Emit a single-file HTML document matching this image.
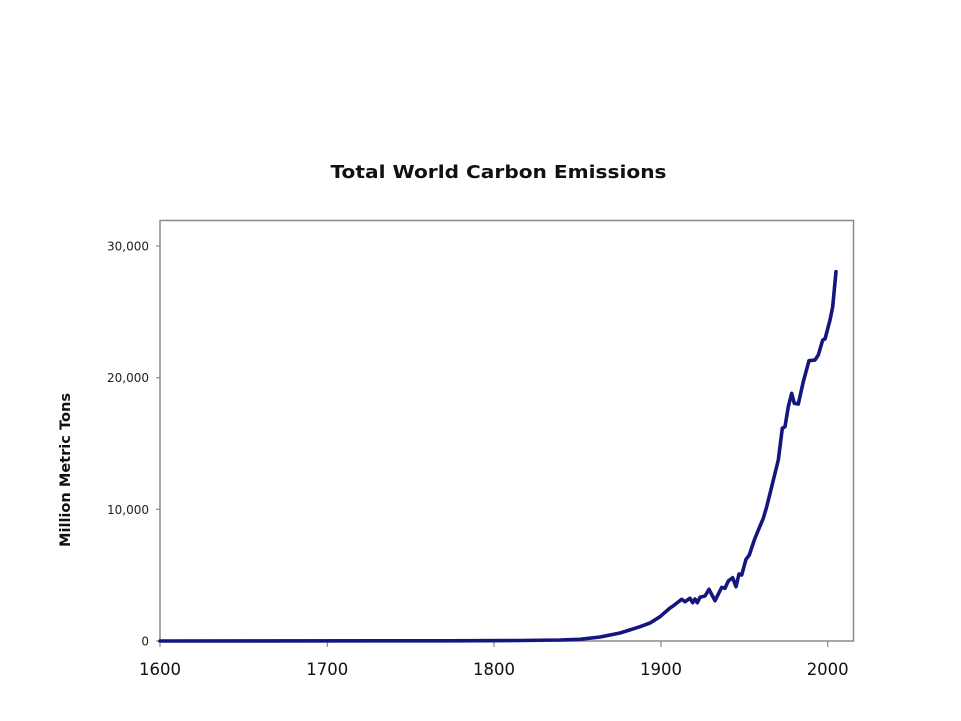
<!DOCTYPE html>
<html><head><meta charset="utf-8"><style>
html,body{margin:0;padding:0;background:#fff;}
svg{display:block;}
</style></head><body>
<svg width="961" height="721" viewBox="0 0 961 721" xmlns="http://www.w3.org/2000/svg">
<rect width="961" height="721" fill="#fff"/>
<text x="498.5" y="178" text-anchor="middle" font-family="DejaVu Sans, Liberation Sans, sans-serif" font-weight="bold" font-size="18" fill="#111" textLength="336" lengthAdjust="spacingAndGlyphs">Total World Carbon Emissions</text>
<rect x="160" y="220.5" width="693.5" height="420.5" fill="none" stroke="#8a8a8a" stroke-width="1.5"/>
<g stroke="#8a8a8a" stroke-width="1.2">
<line x1="156" y1="246" x2="160" y2="246"/>
<line x1="156" y1="377.7" x2="160" y2="377.7"/>
<line x1="156" y1="509.3" x2="160" y2="509.3"/>
<line x1="156" y1="641" x2="160" y2="641"/>
<line x1="160" y1="641" x2="160" y2="647"/>
<line x1="327.3" y1="641" x2="327.3" y2="647"/>
<line x1="494" y1="641" x2="494" y2="647"/>
<line x1="661" y1="641" x2="661" y2="647"/>
<line x1="827.7" y1="641" x2="827.7" y2="647"/>
</g>
<g font-family="DejaVu Sans, Liberation Sans, sans-serif" font-size="12" fill="#222" text-anchor="end">
<text x="149" y="250.5">30,000</text>
<text x="149" y="382.2">20,000</text>
<text x="149" y="513.8">10,000</text>
<text x="149" y="645.5">0</text>
</g>
<g font-family="DejaVu Sans, Liberation Sans, sans-serif" font-size="16.5" fill="#111" text-anchor="middle">
<text x="160" y="675">1600</text>
<text x="327.3" y="675">1700</text>
<text x="494" y="675">1800</text>
<text x="661" y="675">1900</text>
<text x="827.7" y="675">2000</text>
</g>
<text transform="translate(70,470) rotate(-90)" text-anchor="middle" font-family="DejaVu Sans, Liberation Sans, sans-serif" font-weight="bold" font-size="14" fill="#111" textLength="154" lengthAdjust="spacingAndGlyphs">Million Metric Tons</text>
<polyline fill="none" stroke="#15157f" stroke-width="3.6" stroke-linejoin="round" stroke-linecap="round" points="160,641 450,640.8 520,640.5 560,640 580,639.3 600,637 620,633 640,626.7 650,623 660,616.7 670,608 673,606 681.7,599.3 685,601.7 690,598.3 692.7,602.7 695,599 697.3,602.7 700,597.3 705,596 709,589.3 715,600.7 721.7,587.3 725,588.3 728.3,581 732.7,577.7 736,586.7 739,574 741.7,575 746,559.3 749.3,555 754.3,540 759.3,527.7 763.3,518.3 766.7,506.7 771.7,486.7 778.3,460 782.3,428.3 785,426.7 788.3,406.7 791.7,393.3 794.3,403.3 798.3,404 803.3,381.7 809,360.7 815,360 818.3,355 822.7,340 825,339 830,320 832.7,306.7 836,271.7"/>
</svg>
</body></html>
